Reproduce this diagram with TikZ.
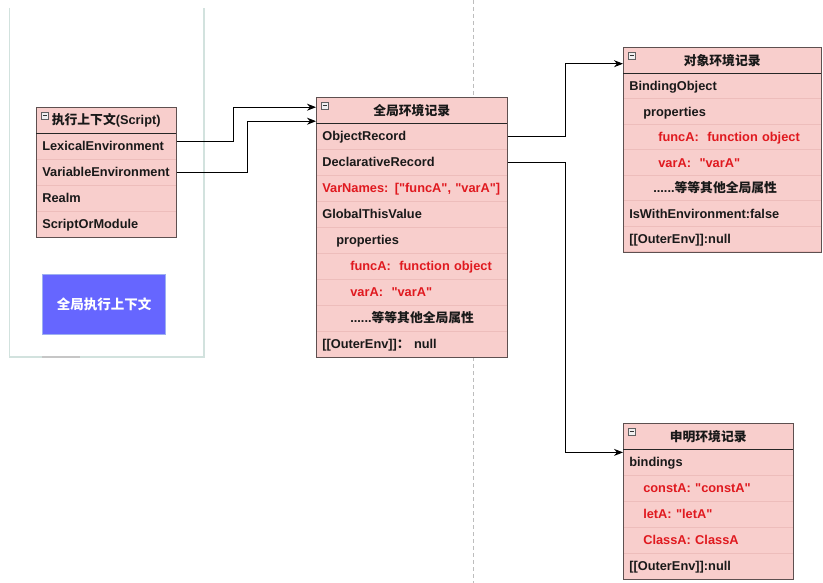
\documentclass[tikz,border=0pt]{standalone}
\usepackage{fontspec}
\setmainfont{Liberation Sans}[Ligatures=TeXOff]
\newfontfamily\cjk{Noto Sans CJK SC}
\usetikzlibrary{arrows.meta}
\definecolor{pinkfill}{HTML}{F8CECC}
\definecolor{sepcol}{HTML}{EDBDBB}
\definecolor{bordercol}{HTML}{5E5050}
\definecolor{redtxt}{HTML}{E0191F}
\definecolor{blueboxfill}{HTML}{6666FF}
\definecolor{blueboxline}{HTML}{9DB0F0}
\definecolor{panelcol}{HTML}{D2E2DE}
\definecolor{dashcol}{HTML}{BDBDBD}
\newcommand\zh[1]{{\cjk #1}}
\newcommand\cellfont{\fontsize{12.8}{15}\selectfont\bfseries}
\newcommand\bluefont{\fontsize{13.5}{16}\selectfont\bfseries}
\begin{document}
\begin{tikzpicture}[x=1pt,y=-1pt,
  cell/.style={anchor=north west, inner xsep=6pt, inner ysep=0pt, minimum height=26pt,
    text height=11pt, text depth=2pt,
    align=left, font=\cellfont, text=black!90, draw=sepcol, line width=0.6pt, fill=pinkfill},
  hdr/.style={anchor=north west, inner sep=0pt, minimum height=26pt, font=\cellfont,
    text=black!90, fill=pinkfill, align=center},
  redrow/.style={text=redtxt},
  frame/.style={draw=bordercol, line width=0.9pt},
  hline/.style={draw=black!85, line width=0.9pt},
  icon/.style={draw=gray!75!black, fill=gray!12, line width=0.5pt},
  minus/.style={draw=black!80, line width=0.7pt},
  conn/.style={draw=black, line width=0.9pt, -{Stealth[length=9pt,width=7pt]}},
  panel/.style={draw=panelcol, line width=1.3pt},
  sep/.style={draw=dashcol, dash pattern=on 4pt off 3pt, line width=0.8pt},
  bluebox/.style={anchor=north west, draw=blueboxline, fill=blueboxfill, text=white,
    line width=1pt, font=\bluefont, minimum width=123pt, minimum height=60pt}
]
\useasboundingbox (0,0) rectangle (823,583);
\fill[white] (0,0) rectangle (823,583);

% separator and left panel
\draw[sep] (473,0) -- (473,583);
\draw[panel] (9.5,8) -- (9.5,357) -- (204,357) -- (204,8);
\draw[draw=gray!45, line width=1.3pt] (42,357) -- (80,357);

% ---------- execution context table ----------
\node[hdr, minimum width=140pt] (ctx-h) at (36,107) {\zh{执行上下文}(Script)};
\node[cell, text width=128pt] (ctx-lex) at (36,133) {LexicalEnvironment};
\node[cell, text width=128pt] (ctx-var) at (36,159) {VariableEnvironment};
\node[cell, text width=128pt] (ctx-realm) at (36,185) {Realm};
\node[cell, text width=128pt] (ctx-som) at (36,211) {ScriptOrModule};
\draw[frame] (ctx-h.north west) rectangle (ctx-som.south east);
\draw[hline] (ctx-h.south west) -- (ctx-h.south east);
\draw[icon] ([xshift=5pt,yshift=-5pt]ctx-h.north west) rectangle ++(7pt,-7pt);
\draw[minus] ([xshift=6.5pt,yshift=-8.5pt]ctx-h.north west) -- ++(4pt,0pt);

\node[bluebox] (gec) at (42,274) {\zh{全局执行上下文}};

% ---------- global environment record ----------
\node[hdr, minimum width=191pt] (glob-h) at (316,97) {\zh{全局环境记录}};
\node[cell, text width=179pt] (glob-obj) at (316,123) {ObjectRecord};
\node[cell, text width=179pt] (glob-decl) at (316,149) {DeclarativeRecord};
\node[cell, redrow, text width=179pt] (glob-vn) at (316,175) {\mbox{VarNames: ["funcA", "varA"]}};
\node[cell, text width=179pt] (glob-gtv) at (316,201) {GlobalThisValue};
\node[cell, text width=179pt] (glob-prop) at (316,227) {\hspace*{14pt}properties};
\node[cell, redrow, text width=179pt] (glob-fa) at (316,253) {\hspace*{28pt}funcA:\ \ function object};
\node[cell, redrow, text width=179pt] (glob-va) at (316,279) {\hspace*{28pt}varA:\ \ "varA"};
\node[cell, text width=179pt] (glob-etc) at (316,305) {\hspace*{28pt}......\zh{等等其他全局属性}};
\node[cell, text width=179pt] (glob-outer) at (316,331) {[[OuterEnv]]\zh{：}\ null};
\draw[frame] (glob-h.north west) rectangle (glob-outer.south east);
\draw[hline] (glob-h.south west) -- (glob-h.south east);
\draw[icon] ([xshift=5pt,yshift=-5pt]glob-h.north west) rectangle ++(7pt,-7pt);
\draw[minus] ([xshift=6.5pt,yshift=-8.5pt]glob-h.north west) -- ++(4pt,0pt);

% ---------- object environment record ----------
\node[hdr, minimum width=198pt] (obj-h) at (623,47) {\zh{对象环境记录}};
\node[cell, minimum height=25.5pt, text width=186pt] (obj-bo) at (623,73) {BindingObject};
\node[cell, minimum height=25.5pt, text width=186pt] (obj-prop) at (623,98.5) {\hspace*{14pt}properties};
\node[cell, redrow, minimum height=25.5pt, text width=186pt] (obj-fa) at (623,124) {\hspace*{29pt}funcA:\ \ function object};
\node[cell, redrow, minimum height=25.5pt, text width=186pt] (obj-va) at (623,149.5) {\hspace*{29pt}varA:\ \ "varA"};
\node[cell, minimum height=25.5pt, text width=186pt] (obj-etc) at (623,175) {\hspace*{24pt}......\zh{等等其他全局属性}};
\node[cell, minimum height=25.5pt, text width=186pt] (obj-with) at (623,200.5) {IsWithEnvironment:false};
\node[cell, minimum height=25.5pt, text width=186pt] (obj-outer) at (623,226) {[[OuterEnv]]:null};
\draw[frame] (obj-h.north west) rectangle (obj-outer.south east);
\draw[hline] (obj-h.south west) -- (obj-h.south east);
\draw[icon] ([xshift=5pt,yshift=-5pt]obj-h.north west) rectangle ++(7pt,-7pt);
\draw[minus] ([xshift=6.5pt,yshift=-8.5pt]obj-h.north west) -- ++(4pt,0pt);

% ---------- declarative environment record ----------
\node[hdr, minimum width=170pt] (decl-h) at (623,423) {\zh{申明环境记录}};
\node[cell, text width=158pt] (decl-b) at (623,449) {bindings};
\node[cell, redrow, text width=158pt] (decl-c) at (623,475) {\hspace*{14pt}constA: "constA"};
\node[cell, redrow, text width=158pt] (decl-l) at (623,501) {\hspace*{14pt}letA: "letA"};
\node[cell, redrow, text width=158pt] (decl-cl) at (623,527) {\hspace*{14pt}ClassA: ClassA};
\node[cell, text width=158pt] (decl-outer) at (623,553) {[[OuterEnv]]:null};
\draw[frame] (decl-h.north west) rectangle (decl-outer.south east);
\draw[hline] (decl-h.south west) -- (decl-h.south east);
\draw[icon] ([xshift=5pt,yshift=-5pt]decl-h.north west) rectangle ++(7pt,-7pt);
\draw[minus] ([xshift=6.5pt,yshift=-8.5pt]decl-h.north west) -- ++(4pt,0pt);

% ---------- connectors ----------
\draw[conn] ([yshift=5pt]ctx-lex.east) -- ++(57,0) |- ([yshift=3pt]glob-h.west);
\draw[conn] (ctx-var.east) -- ++(71,0) |- ([yshift=-11pt]glob-h.west);
\draw[conn] (glob-obj.east) -- ++(58,0) |- ([yshift=-3.5pt]obj-h.west);
\draw[conn] (glob-decl.east) -- ++(58,0) |- ([yshift=-3pt]decl-h.south west);
\end{tikzpicture}
\end{document}
